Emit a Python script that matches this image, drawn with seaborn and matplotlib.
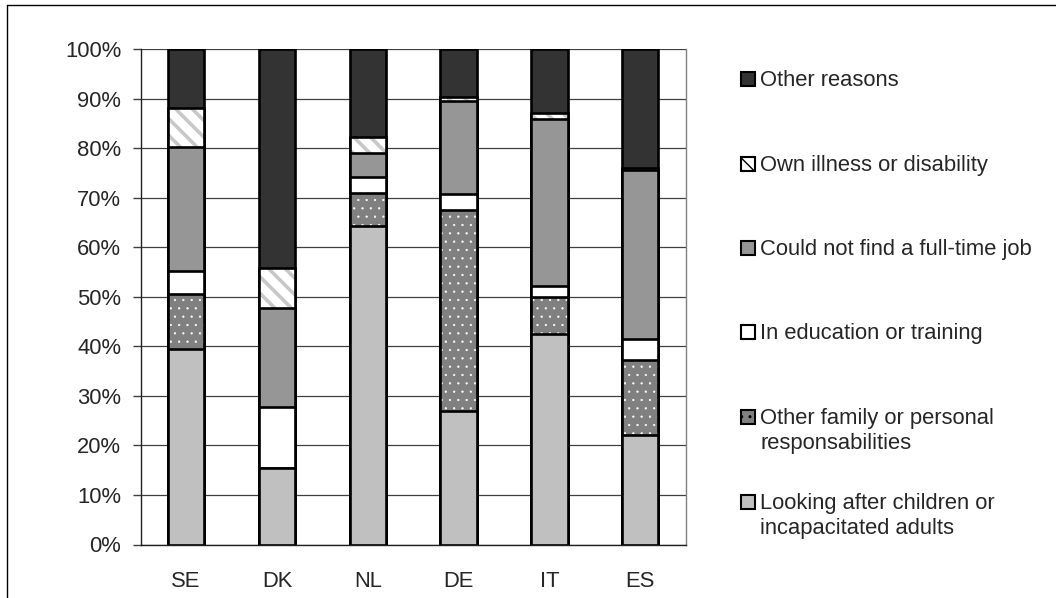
import numpy as np
import matplotlib
matplotlib.use('Agg')
import matplotlib.pyplot as plt
from matplotlib.patches import Rectangle
from matplotlib.lines import Line2D
import seaborn as sns

# data (percent of part-time workers by reason)
countries = ['SE', 'DK', 'NL', 'DE', 'IT', 'ES']
reasons = ['Looking after children or\nincapacitated adults',
           'Other family or personal\nresponsabilities',
           'In education or training',
           'Could not find a full-time job',
           'Own illness or disability',
           'Other reasons']
looking = [39.5, 15.4, 64.2, 26.9, 42.4, 22.1]
family = [11.0, 0.0, 6.8, 40.6, 7.5, 15.1]
education = [4.7, 12.3, 3.2, 3.2, 2.3, 4.2]
nojob = [25.0, 20.1, 4.8, 18.9, 33.6, 34.2]
illness = [7.8, 8.1, 3.3, 0.8, 1.2, 0.3]
other = [12.0, 44.1, 17.7, 9.6, 13.0, 24.1]

fills = ['#c0c0c0', '#808080', '#ffffff', '#969696', '#ffffff', '#333333']
hatches = [None, '..', None, None, '\\\\', None]
hatch_cols = ['#c0c0c0', '#ffffff', '#ffffff', '#969696', '#c8c8c8', '#333333']
hatch_lws = [1.0, 0.4, 1.0, 1.0, 2.6, 1.0]

W, H = 1056, 598
FS = 15.8
sns.set_style('white')
plt.rcParams['font.family'] = ['Liberation Sans', 'DejaVu Sans']
plt.rcParams['font.size'] = FS

fig = plt.figure(figsize=(W / 100, H / 100), dpi=100)
ax = fig.add_axes([140.7 / W, 1 - 544.5 / H, 545 / W, 495.5 / H])

series = np.array([looking, family, education, nojob, illness, other])
cum = np.cumsum(series, axis=0)

# stacked bars: draw cumulative totals from the top layer down
for i in range(len(reasons) - 1, -1, -1):
    n0 = len(ax.patches)
    sns.barplot(x=countries, y=cum[i], color=fills[i], width=0.4,
                hatch=hatches[i], edgecolor=hatch_cols[i], linewidth=0,
                saturation=1, ax=ax)
    for p in ax.patches[n0:]:
        p.set_facecolor(fills[i])
        if hasattr(p, 'set_hatch_linewidth'):
            p.set_hatch_linewidth(hatch_lws[i])
    sns.barplot(x=countries, y=cum[i], color='black', width=0.4, fill=False,
                linewidth=1.9, saturation=1, ax=ax)

ax.set_ylim(0, 100)
ax.set_xlim(-0.5, 5.5)
ax.set_yticks(np.arange(0, 101, 10))
ax.set_yticklabels([f'{v}%' for v in range(0, 101, 10)])
ax.yaxis.grid(True, color='#404040', linewidth=0.9)
ax.set_axisbelow(True)
ax.set_xlabel('')
ax.set_ylabel('')
ax.set_xticks(np.arange(-0.5, 6, 1), minor=True)
ax.tick_params(axis='x', which='major', length=0, pad=19, labelsize=FS)
ax.tick_params(axis='x', which='minor', length=5.5, width=1, color='#404040',
               direction='out')
ax.tick_params(axis='y', length=6, width=1, color='#404040', direction='out',
               pad=8, left=True, labelsize=FS)
for s in ['left', 'bottom']:
    ax.spines[s].set_color('#202020')
    ax.spines[s].set_linewidth(1)
ax.spines['right'].set_color('#808080')
ax.spines['right'].set_linewidth(1)
ax.spines['top'].set_visible(False)

# legend drawn by hand: handle aligned with the first line of each entry
ys = [79, 164, 248, 332, 417, 502]
for k, idx in enumerate(range(len(reasons) - 1, -1, -1)):
    y = ys[k]
    fig.add_artist(Rectangle((741 / W, 1 - (y + 7) / H), 14 / W, 14 / H,
                             transform=fig.transFigure, facecolor=fills[idx],
                             edgecolor='black', linewidth=1.5,
                             hatch=hatches[idx]))
    fig.text(760 / W, 1 - (y - 9) / H, reasons[idx], ha='left', va='top',
             fontsize=FS, linespacing=1.25)

# outer frame (top and left edges)
fig.add_artist(Line2D([7 / W, 7 / W], [0, 1 - 5 / H], color='black', lw=1,
                      transform=fig.transFigure))
fig.add_artist(Line2D([7 / W, 1], [1 - 5 / H, 1 - 5 / H], color='black', lw=1,
                      transform=fig.transFigure))

fig.savefig('out.png', dpi=100)
